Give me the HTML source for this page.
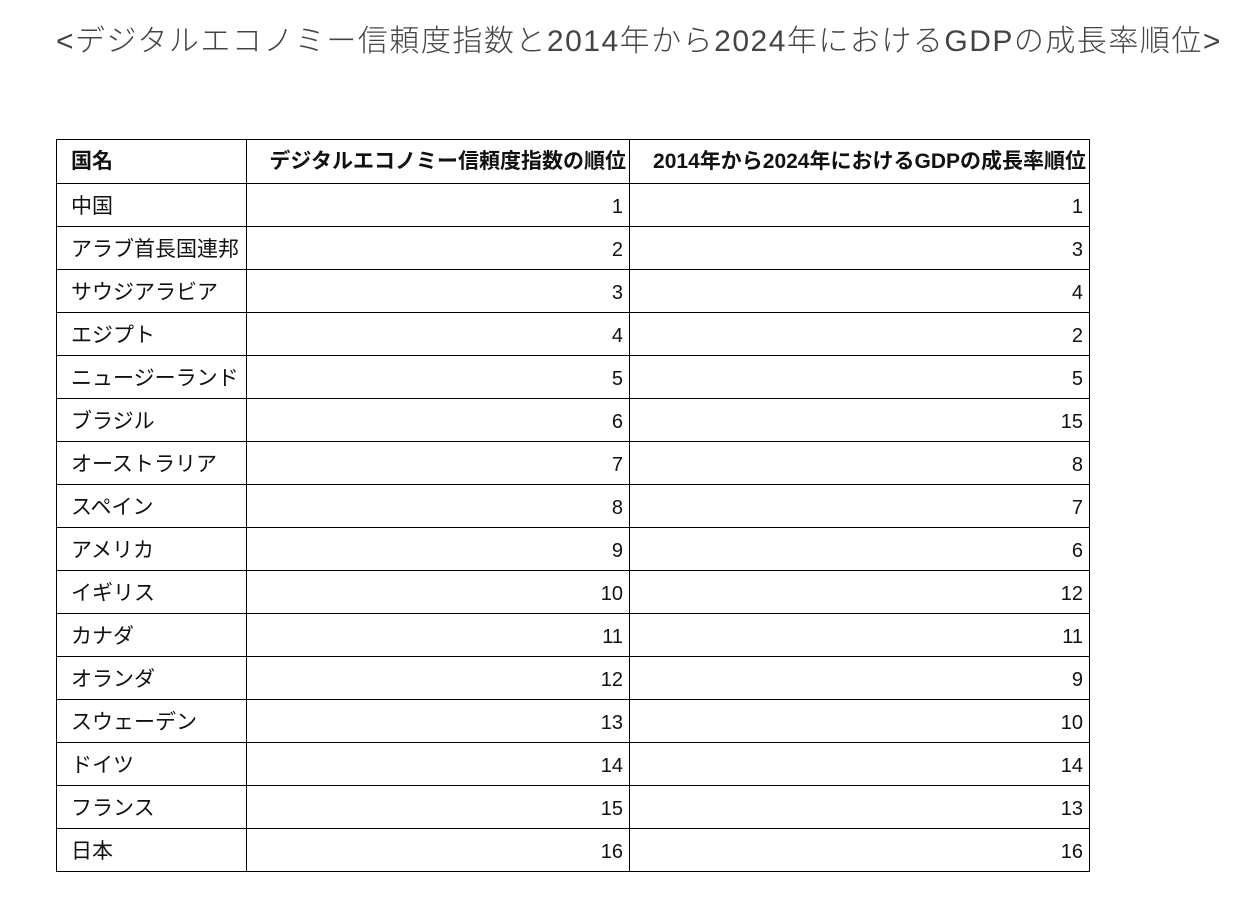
<!DOCTYPE html>
<html><head><meta charset="utf-8"><style>
body{margin:0;width:1258px;height:914px;background:#fff;overflow:hidden;position:relative;font-family:"Liberation Sans","Noto Sans CJK JP",sans-serif;}
.title{position:absolute;left:56px;top:16px;font-size:30px;color:#444;white-space:nowrap;font-weight:300;letter-spacing:1.5px;}
table{position:absolute;left:56px;top:139px;border-collapse:collapse;table-layout:fixed;width:1033px;}
td{border:1.3px solid #000;padding:3px 5px 0 14px;font-size:21px;line-height:1;color:#111;height:43px;box-sizing:border-box;white-space:nowrap;overflow:hidden;}
td.n{text-align:right;padding-right:6px;padding-left:0;font-size:20px;}
tr.h td{font-weight:bold;font-size:21px;height:44px;padding-top:0;}
tr.h td.c{text-align:right;padding-right:3px;padding-left:0;}
</style></head><body>
<div class="title">&lt;デジタルエコノミー信頼度指数と2014年から2024年におけるGDPの成長率順位&gt;</div>
<table>
<colgroup><col style="width:190px"><col style="width:383px"><col style="width:460px"></colgroup>
<tr class="h"><td>国名</td><td class="c">デジタルエコノミー信頼度指数の順位</td><td class="c">2014年から2024年におけるGDPの成長率順位</td></tr>
<tr><td>中国</td><td class="n">1</td><td class="n">1</td></tr>
<tr><td>アラブ首長国連邦</td><td class="n">2</td><td class="n">3</td></tr>
<tr><td>サウジアラビア</td><td class="n">3</td><td class="n">4</td></tr>
<tr><td>エジプト</td><td class="n">4</td><td class="n">2</td></tr>
<tr><td>ニュージーランド</td><td class="n">5</td><td class="n">5</td></tr>
<tr><td>ブラジル</td><td class="n">6</td><td class="n">15</td></tr>
<tr><td>オーストラリア</td><td class="n">7</td><td class="n">8</td></tr>
<tr><td>スペイン</td><td class="n">8</td><td class="n">7</td></tr>
<tr><td>アメリカ</td><td class="n">9</td><td class="n">6</td></tr>
<tr><td>イギリス</td><td class="n">10</td><td class="n">12</td></tr>
<tr><td>カナダ</td><td class="n">11</td><td class="n">11</td></tr>
<tr><td>オランダ</td><td class="n">12</td><td class="n">9</td></tr>
<tr><td>スウェーデン</td><td class="n">13</td><td class="n">10</td></tr>
<tr><td>ドイツ</td><td class="n">14</td><td class="n">14</td></tr>
<tr><td>フランス</td><td class="n">15</td><td class="n">13</td></tr>
<tr><td>日本</td><td class="n">16</td><td class="n">16</td></tr>
</table>
</body></html>
